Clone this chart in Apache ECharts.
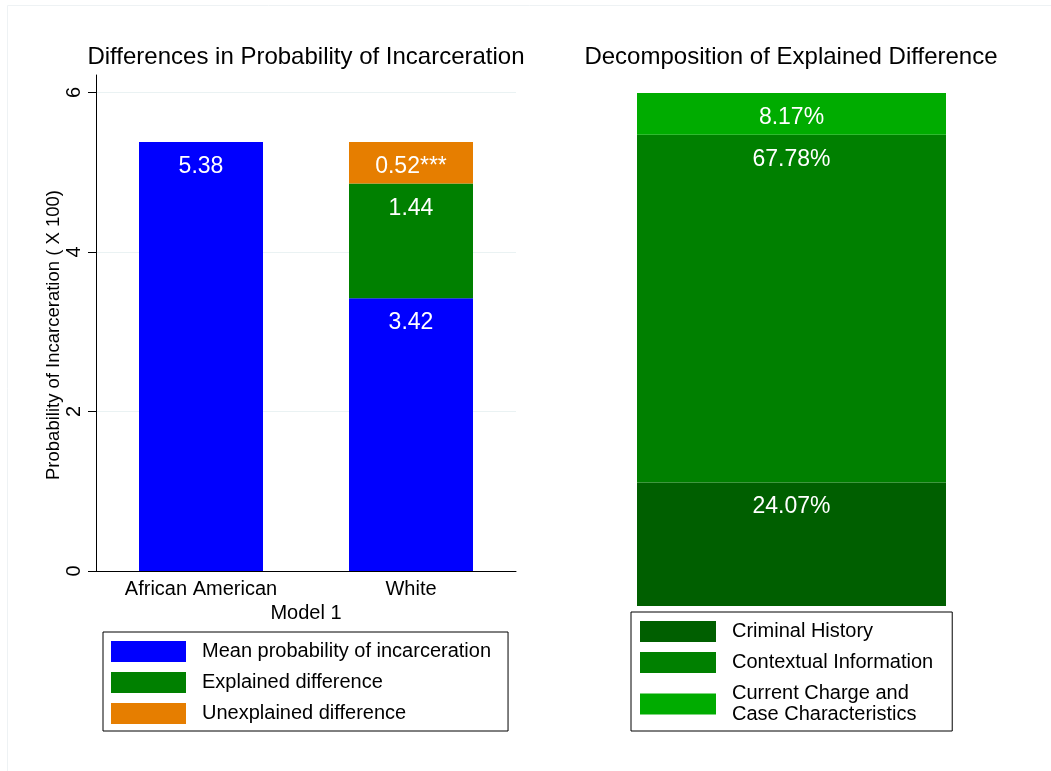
<!DOCTYPE html>
<html>
<head>
<meta charset="utf-8">
<script src="https://cdn.jsdelivr.net/npm/echarts@6/dist/echarts.min.js"></script>
<style>html,body{margin:0;padding:0;background:#fff}#c{width:1051px;height:771px}</style>
</head>
<body>
<div id="c"></div>
<script>
// ---- Data ----
const groups = ['African American', 'White'];
const meanProb = [5.38, 3.42];
const explainedDiff = [null, 1.44];
const unexplainedDiff = [null, 0.52];
const unexplainedMark = '***';
const yTicks = [0, 2, 4, 6];

const decompCategory = ['Explained'];
const criminalHistory = [24.07];
const contextualInfo = [67.78];
const currentCharge = [8.17];

const FONT = 'Liberation Sans, Arial, Helvetica, sans-serif';
const C_BLUE = '#0000FF', C_GREEN = '#008000', C_ORANGE = '#E67E00';
const C_DK = '#005F00', C_MID = '#008000', C_LT = '#00AC00';

const chart = echarts.init(document.getElementById('c'), null, {renderer: 'canvas'});

const lblBase = {show: true, position: 'insideTop', distance: 13, color: '#fff', fontSize: 23, fontFamily: FONT};

const option = {
  backgroundColor: '#fff',
  animation: false,
  textStyle: {fontFamily: FONT},
  graphic: [{
    type: 'rect', z: -10, silent: true,
    shape: {x: 7.5, y: 5.5, width: 1100, height: 900},
    style: {fill: 'none', stroke: '#EEF2F4', lineWidth: 1}
  }],
  title: [
    {text: 'Differences in Probability of Incarceration', left: 306, top: 45, textAlign: 'center', padding: 0,
     textStyle: {fontSize: 24, fontWeight: 'normal', color: '#000', fontFamily: FONT}},
    {text: 'Decomposition of Explained Difference', left: 791, top: 45, textAlign: 'center', padding: 0,
     textStyle: {fontSize: 24, fontWeight: 'normal', color: '#000', fontFamily: FONT}}
  ],
  legend: [
    {
      data: ['Mean probability of incarceration', 'Explained difference', 'Unexplained difference'],
      orient: 'vertical', left: 103, top: 632,
      itemWidth: 75, itemHeight: 21, itemGap: 10, icon: 'rect',
      padding: [9, 17, 7, 8], borderColor: '#000', borderWidth: 1, borderRadius: 0,
      selectedMode: false,
      textStyle: {fontSize: 20, color: '#000', fontFamily: FONT, padding: [0, 0, 0, 11]}
    },
    {
      data: ['Criminal History', 'Contextual Information', 'Current Charge and\nCase Characteristics'],
      orient: 'vertical', left: 631, top: 612,
      itemWidth: 76, itemHeight: 21, itemGap: 10, icon: 'rect',
      padding: [9, 19, 6, 9], borderColor: '#000', borderWidth: 1, borderRadius: 0,
      selectedMode: false,
      textStyle: {fontSize: 20, lineHeight: 21, color: '#000', fontFamily: FONT, padding: [0, 0, 0, 11]}
    }
  ],
  grid: [
    {left: 96, right: 535, top: 75, bottom: 200, containLabel: false},
    {left: 637, right: 105, top: 93, bottom: 165, containLabel: false}
  ],
  xAxis: [
    {
      type: 'category', gridIndex: 0, data: groups,
      name: 'Model 1', nameLocation: 'middle', nameGap: 27,
      nameTextStyle: {fontSize: 20, color: '#000', fontFamily: FONT},
      axisLine: {show: true, lineStyle: {color: '#000', width: 1}},
      axisTick: {show: false},
      axisLabel: {fontSize: 20, color: '#000', margin: 8, fontFamily: FONT}
    },
    {
      type: 'category', gridIndex: 1, data: decompCategory, show: false
    }
  ],
  yAxis: [
    {
      type: 'value', gridIndex: 0, min: 0, max: 6.22,
      name: 'Probability of Incarceration ( X 100)', nameLocation: 'middle', nameGap: 23,
      nameTextStyle: {fontSize: 18.5, color: '#000', fontFamily: FONT, padding: [0, 24, 0, 0]},
      axisLine: {show: true, lineStyle: {color: '#000', width: 1}},
      axisTick: {show: true, length: 8, lineStyle: {color: '#000'}, customValues: yTicks},
      axisLabel: {fontSize: 20, color: '#000', rotate: 90, margin: 12, fontFamily: FONT, customValues: yTicks},
      splitLine: {show: true, lineStyle: {color: '#EAF2F3', width: 1}}
    },
    {
      type: 'value', gridIndex: 1, min: 0, max: 100, show: false, splitLine: {show: false}
    }
  ],
  series: [
    {
      name: 'Mean probability of incarceration', type: 'bar', stack: 'a', xAxisIndex: 0, yAxisIndex: 0,
      data: meanProb, barWidth: 124, itemStyle: {color: C_BLUE},
      label: Object.assign({}, lblBase, {formatter: p => p.value.toFixed(2)})
    },
    {
      name: 'Explained difference', type: 'bar', stack: 'a', xAxisIndex: 0, yAxisIndex: 0,
      data: explainedDiff, barWidth: 124, itemStyle: {color: C_GREEN},
      label: Object.assign({}, lblBase, {distance: 14, formatter: p => p.value == null ? '' : p.value.toFixed(2)})
    },
    {
      name: 'Unexplained difference', type: 'bar', stack: 'a', xAxisIndex: 0, yAxisIndex: 0,
      data: unexplainedDiff, barWidth: 124, itemStyle: {color: C_ORANGE},
      label: Object.assign({}, lblBase, {
        formatter: p => p.value == null ? '' : p.value.toFixed(2) + unexplainedMark
      })
    },
    {
      name: 'Criminal History', type: 'bar', stack: 'b', xAxisIndex: 1, yAxisIndex: 1,
      data: criminalHistory, barWidth: '100%', itemStyle: {color: C_DK},
      label: Object.assign({}, lblBase, {formatter: p => p.value.toFixed(2) + '%'})
    },
    {
      name: 'Contextual Information', type: 'bar', stack: 'b', xAxisIndex: 1, yAxisIndex: 1,
      data: contextualInfo, barWidth: '100%', itemStyle: {color: C_MID},
      label: Object.assign({}, lblBase, {formatter: p => p.value.toFixed(2) + '%'})
    },
    {
      name: 'Current Charge and\nCase Characteristics', type: 'bar', stack: 'b', xAxisIndex: 1, yAxisIndex: 1,
      data: currentCharge, barWidth: '100%', itemStyle: {color: C_LT},
      label: Object.assign({}, lblBase, {distance: 13, formatter: p => p.value.toFixed(2) + '%'})
    }
  ]
};
chart.setOption(option);
</script>
</body>
</html>
